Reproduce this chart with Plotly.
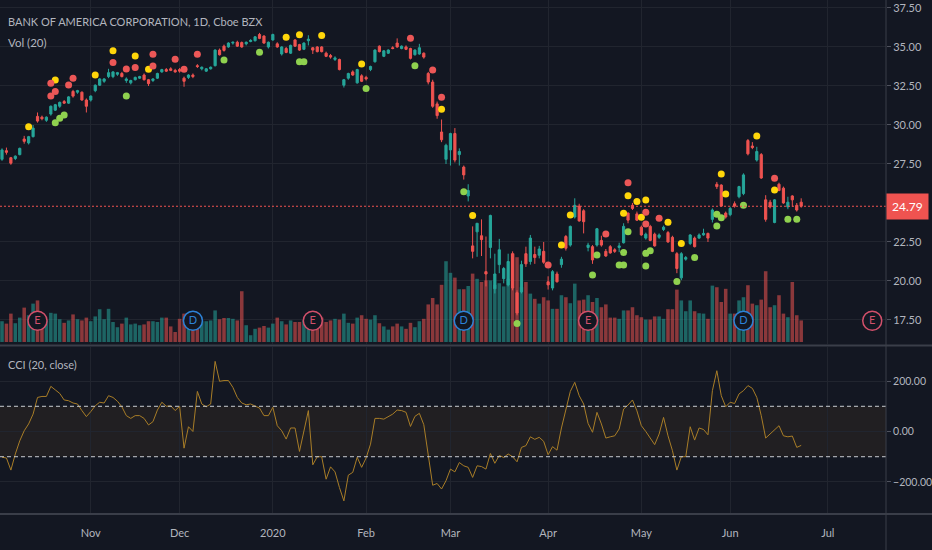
import pandas as pd
import plotly.graph_objects as go

# trading calendar (NYSE holidays in the window)
HOLIDAYS = ['2019-11-28', '2019-12-25', '2020-01-01', '2020-01-20',
            '2020-02-17', '2020-04-10', '2020-05-25', '2020-07-03']
sessions = pd.bdate_range('2019-10-04', '2020-07-31', freq='C', holidays=HOLIDAYS)

# daily OHLC, BAC (one value per session from 2019-10-04)
opens = [
    27.80, 28.35, 27.90, 27.85, 28.10, 29.10, 28.85, 29.25, 30.55, 30.50,
    30.30, 30.70, 30.95, 31.20, 31.50, 31.40, 32.15, 32.10, 32.10, 31.60,
    31.60, 32.20, 32.55, 32.80, 33.10, 33.10, 33.25, 33.30, 32.85, 32.70,
    32.90, 33.00, 33.20, 32.90, 32.85, 33.00, 33.40, 33.55, 33.60, 33.50,
    33.55, 33.00, 33.05, 33.20, 33.80, 33.60, 33.45, 33.60, 33.80, 34.80,
    35.05, 35.00, 35.25, 35.30, 35.28, 35.20, 35.35, 35.40, 35.80, 35.70,
    35.00, 35.45, 35.20, 34.55, 34.90, 34.60, 35.45, 35.15, 34.85, 35.40,
    34.95, 35.00, 35.00, 34.60, 34.45, 34.20, 34.20, 32.55, 33.00, 33.40,
    32.70, 33.15, 33.05, 33.55, 34.05, 35.05, 34.40, 34.60, 34.95, 35.25,
    34.90, 35.00, 34.90, 34.50, 34.55, 34.60, 33.30, 32.75, 31.35, 29.55,
    27.80, 28.40, 29.45, 28.10, 27.30, 25.45, 22.25, 23.15, 22.90, 20.60,
    22.15, 19.50, 21.05, 20.15, 19.75, 21.75, 19.25, 19.30, 21.75, 21.25,
    21.70, 21.65, 21.90, 19.95, 19.55, 20.45, 21.05, 22.85, 22.30, 24.10,
    24.80, 24.50, 22.15, 22.20, 22.30, 22.60, 21.90, 22.20, 22.00, 22.15,
    22.45, 24.35, 24.85, 24.30, 23.45, 22.75, 23.50, 23.00, 22.80, 23.30,
    23.10, 22.80, 21.75, 20.20, 21.40, 22.40, 22.75, 22.75, 22.95, 23.05,
    23.95, 26.20, 26.15, 24.35, 24.25, 24.95, 25.40, 25.60, 29.00, 28.65,
    27.75, 28.10, 25.20, 25.05, 23.75, 26.20, 25.95, 24.75, 25.45, 24.85,
    25.05]
highs = [
    28.50, 28.55, 27.95, 28.05, 28.55, 29.30, 29.30, 30.00, 30.80, 30.60,
    30.55, 31.25, 31.35, 31.50, 31.60, 31.85, 32.25, 32.25, 32.15, 31.70,
    31.90, 32.60, 33.00, 33.00, 33.60, 33.45, 33.40, 33.40, 33.05, 32.90,
    33.10, 33.15, 33.30, 32.95, 33.00, 33.35, 33.60, 33.65, 33.70, 33.60,
    33.65, 33.10, 33.25, 33.30, 33.90, 33.75, 33.65, 33.75, 34.85, 34.90,
    35.15, 35.30, 35.35, 35.40, 35.35, 35.35, 35.50, 35.70, 35.90, 35.75,
    35.35, 35.85, 35.30, 35.05, 35.00, 35.15, 35.50, 35.20, 35.30, 35.75,
    35.00, 35.05, 35.05, 34.70, 34.55, 34.40, 34.25, 32.95, 33.35, 33.50,
    33.60, 33.25, 33.15, 33.80, 34.85, 35.10, 34.80, 34.85, 35.05, 35.55,
    35.10, 35.10, 34.95, 34.85, 35.20, 34.65, 33.40, 32.90, 31.50, 30.35,
    28.80, 29.50, 29.80, 28.50, 27.40, 26.20, 23.50, 23.70, 23.95, 22.85,
    24.25, 21.75, 22.70, 20.90, 21.75, 21.90, 19.40, 21.30, 22.20, 22.95,
    22.20, 22.25, 22.50, 20.30, 20.70, 20.60, 21.55, 22.95, 23.55, 25.30,
    24.95, 24.60, 22.45, 22.30, 23.40, 22.90, 22.05, 22.30, 22.10, 22.45,
    23.70, 24.40, 25.00, 24.45, 23.55, 23.10, 23.60, 23.10, 23.05, 23.55,
    23.20, 22.90, 21.85, 21.85, 21.60, 23.00, 22.85, 23.05, 23.35, 23.10,
    24.65, 26.35, 26.20, 24.45, 24.75, 25.10, 26.10, 26.90, 29.10, 28.90,
    28.60, 28.20, 25.50, 25.20, 25.25, 26.30, 26.05, 25.40, 25.50, 25.00,
    25.30]
lows = [
    27.70, 28.10, 27.45, 27.75, 28.05, 28.80, 28.75, 29.20, 30.15, 30.30,
    30.20, 30.60, 30.90, 31.10, 31.35, 31.35, 31.75, 32.00, 31.55, 30.80,
    31.50, 32.10, 32.50, 32.70, 33.00, 33.00, 33.15, 33.05, 32.70, 32.60,
    32.85, 32.95, 32.85, 32.50, 32.75, 32.95, 33.35, 33.40, 33.45, 33.35,
    33.35, 32.45, 32.95, 33.00, 33.65, 33.50, 33.40, 33.55, 33.75, 34.45,
    34.70, 34.95, 35.15, 35.00, 34.95, 35.10, 35.30, 35.35, 35.50, 35.20,
    34.90, 35.40, 34.95, 34.45, 34.60, 34.55, 35.00, 34.75, 34.80, 35.10,
    34.55, 34.65, 34.65, 34.35, 34.25, 34.10, 33.50, 32.40, 32.90, 33.15,
    32.65, 32.75, 32.85, 33.45, 34.00, 34.65, 34.35, 34.55, 34.85, 34.95,
    34.85, 34.80, 34.20, 34.45, 34.50, 34.25, 32.60, 31.10, 30.40, 28.90,
    27.50, 27.40, 27.60, 27.40, 26.50, 25.10, 21.45, 21.55, 21.60, 19.65,
    21.45, 19.20, 20.50, 19.85, 19.65, 19.40, 17.80, 19.20, 20.90, 21.05,
    21.10, 21.45, 21.10, 19.45, 19.40, 19.90, 20.85, 21.95, 22.20, 24.00,
    23.80, 23.05, 21.90, 21.10, 22.20, 22.20, 21.55, 21.75, 21.80, 21.85,
    22.40, 23.70, 24.55, 23.85, 22.90, 22.65, 22.55, 22.20, 22.70, 23.20,
    22.45, 21.85, 20.50, 20.05, 21.30, 22.30, 22.15, 22.70, 22.90, 22.50,
    23.75, 25.90, 24.75, 24.00, 24.15, 24.70, 25.30, 25.50, 28.05, 28.45,
    27.65, 26.55, 23.80, 24.65, 23.70, 25.75, 24.95, 24.60, 24.75, 24.45,
    24.70]
closes = [
    28.40, 28.25, 27.55, 28.00, 28.50, 28.95, 29.25, 29.80, 30.25, 30.40,
    30.50, 31.20, 31.30, 31.45, 31.40, 31.80, 31.85, 32.20, 31.60, 31.20,
    31.85, 32.55, 32.95, 32.95, 33.35, 33.40, 33.35, 33.10, 32.95, 32.85,
    33.05, 33.10, 32.90, 32.65, 32.95, 33.30, 33.55, 33.45, 33.50, 33.40,
    33.45, 32.80, 33.20, 33.10, 33.75, 33.70, 33.60, 33.70, 34.80, 34.50,
    34.78, 35.25, 35.30, 35.05, 35.00, 35.30, 35.42, 35.65, 35.55, 35.25,
    35.30, 35.80, 35.00, 35.00, 34.65, 35.10, 35.05, 34.80, 35.25, 35.50,
    34.80, 34.70, 34.70, 34.40, 34.35, 34.30, 33.55, 32.90, 33.30, 33.20,
    33.55, 32.80, 32.95, 33.75, 34.80, 34.70, 34.75, 34.80, 34.90, 35.00,
    35.05, 34.85, 34.27, 34.80, 34.95, 34.35, 32.75, 31.20, 30.60, 29.05,
    28.70, 29.45, 27.75, 28.30, 26.80, 25.80, 21.90, 23.70, 22.65, 20.45,
    24.20, 20.45, 22.00, 20.80, 21.25, 19.55, 17.95, 21.05, 21.10, 22.75,
    21.50, 22.05, 21.20, 19.75, 20.60, 19.95, 21.40, 22.10, 23.50, 24.85,
    23.85, 23.80, 22.30, 21.35, 23.35, 22.30, 21.60, 21.80, 21.90, 22.25,
    23.50, 23.90, 24.65, 23.90, 22.95, 23.00, 22.60, 22.25, 22.95, 23.45,
    22.50, 21.90, 20.80, 21.75, 21.50, 22.95, 22.20, 22.95, 23.05, 22.75,
    24.55, 26.05, 24.80, 24.10, 24.65, 24.80, 26.05, 26.80, 28.15, 28.55,
    28.30, 26.60, 23.95, 24.75, 25.20, 25.80, 25.00, 25.05, 25.20, 24.55,
    24.79]

# volume, millions of shares
volumes = [
    52, 46, 71, 47, 61, 86, 67, 96, 104, 67,
    54, 73, 71, 57, 48, 54, 69, 57, 54, 61,
    52, 64, 82, 57, 83, 50, 37, 46, 61, 44,
    46, 42, 44, 52, 52, 50, 61, 61, 39, 25,
    58, 71, 50, 46, 42, 52, 52, 54, 79, 57,
    60, 60, 58, 54, 127, 42, 17, 33, 36, 40,
    36, 46, 61, 52, 44, 54, 50, 50, 54, 58,
    62, 65, 61, 50, 54, 58, 56, 71, 48, 46,
    61, 67, 58, 56, 67, 47, 39, 31, 39, 46,
    39, 33, 48, 37, 52, 58, 94, 110, 94, 143,
    202, 173, 161, 132, 132, 140, 171, 158, 150, 154,
    154, 143, 147, 139, 158, 221, 212, 137, 150, 121,
    108, 96, 112, 104, 83, 83, 117, 112, 97, 146,
    104, 106, 117, 100, 110, 87, 94, 61, 61, 58,
    79, 79, 87, 67, 62, 56, 56, 64, 64, 58,
    82, 82, 131, 104, 77, 104, 77, 72, 71, 58,
    141, 137, 100, 133, 71, 71, 104, 112, 142, 96,
    92, 106, 177, 87, 92, 117, 71, 62, 150, 67,
    54]

# CCI (20, close)
cci = [
    -102, -105, -153, -89, -37, 3, 30, 69, 135, 139,
    139, 179, 165, 151, 125, 122, 113, 109, 83, 59,
    79, 102, 116, 113, 142, 135, 120, 98, 63, 52,
    63, 63, 52, 26, 39, 85, 116, 100, 102, 83,
    100, -66, 19, 0, 159, 109, 98, 109, 278, 199,
    202, 202, 175, 135, 113, 106, 109, 102, 93, 63,
    63, 96, 23, 3, -30, 14, 14, -79, 3, 83,
    -132, -100, -100, -189, -140, -160, -222, -275, -173, -162,
    -102, -142, -105, -50, 52, 52, 49, 60, 69, 85,
    83, 76, 20, 60, 72, 27, -89, -213, -206, -228,
    -195, -149, -160, -123, -136, -142, -182, -136, -139, -149,
    -87, -126, -95, -103, -89, -100, -120, -63, -56, -21,
    -31, -23, -39, -92, -60, -74, 14, 82, 159, 195,
    142, 109, 32, -3, 76, 30, -26, -21, -17, 10,
    89, 105, 125, 82, 23, 0, -26, -52, -10, 56,
    -17, -76, -153, -100, -100, 19, -34, 14, 8, -13,
    162, 241, 142, 98, 116, 111, 149, 162, 182, 171,
    135, 63, -26, -10, 3, 23, -17, -21, -18, -63,
    -55]

# signal dots: bar number (session index) and price
yellow_bars = [6, 12, 21, 25, 30, 33, 64, 67, 72, 81, 99, 106, 126, 128,
               140, 141, 143, 144, 145, 150, 153, 162, 163, 170, 174]
yellow_px = [29.89, 32.88, 33.20, 34.76, 34.42, 33.57, 35.62, 35.79, 35.73,
             33.91, 31.00, 24.19, 22.31, 24.23, 24.34, 25.47, 25.09, 24.08,
             25.19, 23.76, 22.41, 26.86, 25.58, 29.29, 25.83]
red_bars = [11, 11, 12, 15, 16, 25, 28, 30, 34, 34, 39, 41, 44, 92, 97, 99,
            123, 136, 141, 145, 145, 148, 174]
red_px = [32.67, 31.86, 32.14, 32.56, 32.99, 34.00, 33.59, 33.68, 34.53,
          33.78, 34.21, 33.57, 34.53, 35.56, 33.53, 31.77, 21.03, 23.01,
          26.30, 24.40, 23.65, 24.02, 26.58]
green_bars = [12, 13, 14, 28, 50, 58, 67, 68, 82, 93, 104, 116, 133, 134,
              139, 140, 140, 141, 145, 145, 146, 152, 156, 161, 161, 162,
              167, 177, 179]
green_px = [30.15, 30.43, 30.64, 31.86, 34.17, 34.66, 34.06, 34.06, 32.33,
            33.80, 25.72, 17.27, 20.38, 21.67, 21.03, 21.03, 21.82, 23.16,
            21.77, 20.96, 21.94, 19.96, 21.50, 24.27, 23.53, 24.06, 24.85,
            23.95, 23.95]

earnings_dates = ['2019-10-16', '2020-01-15', '2020-04-15', '2020-07-16']
dividend_dates = ['2019-12-05', '2020-03-05', '2020-06-04']

month_keys = ['2019-11', '2019-12', '2020-01', '2020-02', '2020-03',
              '2020-04', '2020-05', '2020-06', '2020-07']
month_labels = ['Nov', 'Dec', '2020', 'Feb', 'Mar', 'Apr', 'May', 'Jun', 'Jul']

# 25.00 is hidden behind the last-price tag in the original
price_ticks = [17.5, 20.0, 22.5, 27.5, 30.0, 32.5, 35.0, 37.5]
cci_ticks = [-200, 0, 200]
last_price = 24.79

BG = '#131722'
GRID = '#21252f'
TEXT = '#b2b5be'
UP = '#26a69a'
DOWN = '#ef5350'
FONT = 'Lato, sans-serif'

bars = list(range(len(closes)))
month_of = [d.strftime('%Y-%m') for d in sessions]
tick_pos = [month_of.index(m) for m in month_keys]
vol_colors = ['rgba(38,166,154,0.55)' if c >= o else 'rgba(239,83,80,0.55)'
              for o, c in zip(opens, closes)]


def session_no(day):
    return sessions.get_loc(pd.Timestamp(day))


fig = go.Figure()

# volume sits on the base axis so the candles draw above it
fig.add_trace(go.Bar(x=bars, y=volumes, marker_color=vol_colors,
                     marker_line_width=0, width=0.8, hoverinfo='skip',
                     xaxis='x', yaxis='y'))
fig.add_trace(go.Candlestick(x=bars, open=opens, high=highs, low=lows, close=closes,
                             increasing=dict(line=dict(color=UP, width=1), fillcolor=UP),
                             decreasing=dict(line=dict(color=DOWN, width=1), fillcolor=DOWN),
                             whiskerwidth=0, hoverinfo='skip', xaxis='x', yaxis='y2'))

for bx, py, col in [(yellow_bars, yellow_px, '#ffd60a'),
                    (red_bars, red_px, '#ec5757'),
                    (green_bars, green_px, '#8fd14f')]:
    fig.add_trace(go.Scatter(x=bx, y=py, mode='markers',
                             marker=dict(size=7, color=col), hoverinfo='skip',
                             xaxis='x', yaxis='y2'))

# earnings / dividend badges along the bottom of the price pane
for days, letter, col in [(earnings_dates, 'E', '#d2506b'),
                          (dividend_dates, 'D', '#2d83d8')]:
    fig.add_trace(go.Scatter(x=[session_no(d) for d in days], y=[17.45] * len(days),
                             mode='markers+text', text=[letter] * len(days),
                             textposition='middle center',
                             textfont=dict(color=col, size=11, family=FONT),
                             marker=dict(size=19, color=BG, line=dict(color=col, width=1.5)),
                             hoverinfo='skip', xaxis='x', yaxis='y2'))

fig.add_trace(go.Scatter(x=bars, y=cci, mode='lines',
                         line=dict(color='#a87d27', width=1), hoverinfo='skip',
                         xaxis='x2', yaxis='y3'))

x_range = [-0.45, 199.1]
fig.update_layout(
    width=932, height=550,
    margin=dict(l=0, r=44, t=0, b=36),
    paper_bgcolor=BG, plot_bgcolor=BG,
    showlegend=False,
    font=dict(family=FONT, size=11, color=TEXT),
    xaxis=dict(domain=[0, 1], range=x_range, anchor='y', tickvals=tick_pos,
               showticklabels=False, showgrid=True, gridcolor=GRID, zeroline=False,
               rangeslider=dict(visible=False)),
    xaxis2=dict(domain=[0, 1], range=x_range, anchor='y3', matches='x',
                tickvals=tick_pos, ticktext=month_labels, ticks='',
                ticklabelstandoff=11, showgrid=True, gridcolor=GRID, zeroline=False,
                tickfont=dict(size=11, color=TEXT)),
    yaxis=dict(domain=[0.3307, 1], range=[-5, 855], visible=False, showgrid=False),
    yaxis2=dict(overlaying='y', side='right', anchor='x', range=[15.96, 38.01],
                tickvals=price_ticks, tickformat='.2f', ticks='outside', ticklen=4,
                tickcolor='#50535e', showgrid=True, gridcolor=GRID, zeroline=False,
                tickfont=dict(size=11, color=TEXT)),
    yaxis3=dict(domain=[0, 0.3249], range=[-327, 335], side='right', anchor='x2',
                tickvals=cci_ticks, tickformat='.2f', ticks='outside', ticklen=4,
                tickcolor='#50535e', showgrid=True, gridcolor=GRID, zeroline=False,
                tickfont=dict(size=10.5, color=TEXT)),
)

# CCI band and its bounds
fig.add_shape(type='rect', xref='paper', x0=0, x1=1, yref='y3', y0=-100, y1=100,
              fillcolor='rgba(158,110,40,0.10)', line_width=0, layer='below')
for lvl in (-100, 100):
    fig.add_shape(type='line', xref='paper', x0=0, x1=1, yref='y3', y0=lvl, y1=lvl,
                  line=dict(color='#c9ccd2', width=1, dash='4px,3px'))

# last price line + label
fig.add_shape(type='line', xref='paper', x0=0, x1=1, yref='y2', y0=last_price, y1=last_price,
              line=dict(color=DOWN, width=1, dash='2px,2px'))
fig.add_annotation(xref='paper', x=1, xanchor='left', yref='y2', y=last_price,
                   text=f'{last_price:.2f}', showarrow=False, bgcolor=DOWN,
                   font=dict(color='white', size=12, family=FONT), borderpad=5)

# pane borders
fig.add_shape(type='line', xref='paper', x0=0, x1=1.06, yref='paper', y0=0.3278, y1=0.3278,
              line=dict(color='#3a3e49', width=2))
fig.add_shape(type='line', xref='paper', x0=0, x1=1.06, yref='paper', y0=0, y1=0,
              line=dict(color='#3a3e49', width=2))
fig.add_shape(type='line', xref='paper', x0=1, x1=1, yref='paper', y0=-0.08, y1=1,
              line=dict(color='#3a3e49', width=1))

# pane captions
for text, ypos, shift, size in [('BANK OF AMERICA CORPORATION, 1D, Cboe BZX', 1, -21, 11),
                                ('Vol (20)', 1, -42, 11.5),
                                ('CCI (20, close)', 0.3249, -17, 11)]:
    fig.add_annotation(xref='paper', x=0, xshift=6, xanchor='left',
                       yref='paper', y=ypos, yshift=shift, yanchor='middle',
                       text=text, showarrow=False, font=dict(size=size, color=TEXT))

# the page body margin would push the chart off the window
fig.write_html('out.html', config={'displayModeBar': False},
               post_script="document.body.style.margin='0';"
                           "document.body.style.background='#131722';")
